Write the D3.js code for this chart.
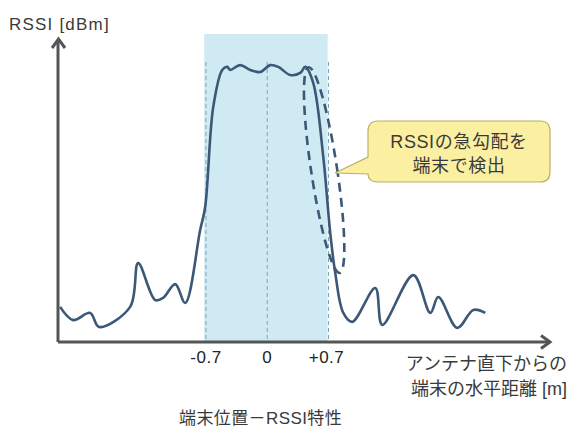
<!DOCTYPE html>
<html><head><meta charset="utf-8">
<script src="https://cdn.jsdelivr.net/npm/d3@7"></script>
<style>
html,body{margin:0;padding:0;background:#fff;}
text{font-family:"Liberation Sans","Noto Sans CJK JP",sans-serif;}
</style></head>
<body>
<svg id="chart" width="571" height="428"></svg>
<script>
// Data: horizontal distance [m] vs relative RSSI (arbitrary units)
const xPos = [-2.366,-2.217,-2.023,-1.92,-1.566,-1.474,-1.28,-1.189,-1.051,-0.937,-0.766,-0.709,-0.617,-0.514,-0.457,-0.423,-0.309,-0.194,-0.08,0.034,0.126,0.263,0.377,0.434,0.526,0.64,0.72,0.777,0.869,0.971,1.234,1.314,1.669,1.863,1.954,2.171,2.354,2.491];
const rssi = [11.7,7.3,9.7,5,11.7,26.3,14,14.7,19.3,13,37.3,45,78.3,90.7,91.7,90.7,92.3,90.7,90,92.3,91.7,89,89.7,91.7,86.3,61.7,36.3,23,9.7,6.7,18,5.7,22.3,9.7,15,4.7,10.7,9.7];
const tickValues = [-0.7, 0, 0.7];
const tickLabels = ["-0.7", "0", "+0.7"];
const zoneRange = [-0.72, 0.69];
const yLabel = "RSSI [dBm]";
const xLabelLines = ["アンテナ直下からの", "端末の水平距離 [m]"];
const title = "端末位置－RSSI特性";
const calloutLines = ["RSSIの急勾配を", "端末で検出"];

const svg = d3.select("#chart");
const x = d3.scaleLinear().domain([-2.39, 3.23]).range([58, 550]);
const y = d3.scaleLinear().domain([0, 100]).range([342, 42]);
const axisColor = "#555";
const lineColor = "#3b5877";
const textColor = "#3a3a3a";

// shaded zone
svg.append("rect")
  .attr("x", x(zoneRange[0])).attr("y", 34)
  .attr("width", x(zoneRange[1]) - x(zoneRange[0]))
  .attr("height", 342 - 34)
  .attr("fill", "#cfeaf3");

// dashed verticals at ticks
svg.selectAll("line.tick").data(tickValues).enter().append("line")
  .attr("x1", d => x(d)).attr("x2", d => x(d))
  .attr("y1", 62).attr("y2", 342)
  .attr("stroke", "#7fa5b5").attr("stroke-width", 1)
  .attr("stroke-dasharray", "4,3");

// curve
const data = xPos.map((v, i) => [v, rssi[i]]);
svg.append("path").datum(data)
  .attr("d", d3.line().x(d => x(d[0])).y(d => y(d[1])).curve(d3.curveCatmullRom.alpha(0.5)))
  .attr("fill", "none").attr("stroke", lineColor).attr("stroke-width", 2.6)
  .attr("stroke-linejoin", "round");

// dashed ellipse around steep edge
svg.append("ellipse")
  .attr("cx", 0).attr("cy", 0).attr("rx", 13).attr("ry", 104)
  .attr("transform", `translate(${x(0.65)},${y(57.3)}) rotate(-8.6)`)
  .attr("fill", "none").attr("stroke", lineColor).attr("stroke-width", 2.6)
  .attr("stroke-dasharray", "9,6");

// axes
svg.append("line").attr("x1", 58).attr("x2", 58).attr("y1", 342).attr("y2", 40)
  .attr("stroke", axisColor).attr("stroke-width", 3);
svg.append("line").attr("x1", 58).attr("x2", 549).attr("y1", 342).attr("y2", 342)
  .attr("stroke", axisColor).attr("stroke-width", 3);
svg.append("path").attr("d", "M52,48 L58.5,39 L65,48")
  .attr("fill", "none").attr("stroke", axisColor).attr("stroke-width", 3).attr("stroke-linejoin", "miter");
svg.append("path").attr("d", "M541,335.5 L550,342 L541,348.5")
  .attr("fill", "none").attr("stroke", axisColor).attr("stroke-width", 3);

// tick labels
svg.selectAll("text.tl").data(tickValues).enter().append("text")
  .attr("x", (d, i) => x(d) + (i === 2 ? -2 : 0)).attr("y", 363)
  .attr("text-anchor", "middle").attr("font-size", 17).attr("letter-spacing", 0.5).attr("fill", "#222")
  .text((d, i) => tickLabels[i]);

// y label
svg.append("text").attr("x", 9).attr("y", 30).attr("font-size", 17).attr("letter-spacing", 1.2)
  .attr("fill", textColor).text(yLabel);

// x label
svg.selectAll("text.xl").data(xLabelLines).enter().append("text")
  .attr("x", 567).attr("y", (d, i) => 370 + i * 25)
  .attr("text-anchor", "end").attr("font-size", 18).attr("fill", textColor).text(d => d);

// title
svg.append("text").attr("x", 179).attr("y", 424).attr("font-size", 17).attr("letter-spacing", 0.4)
  .attr("fill", textColor).text(title);

// callout
svg.append("path")
  .attr("d", "M378,121 H540 Q550,121 550,131 V172 Q550,182 540,182 H378 Q368,182 368,174 L335,173 L368,157 V131 Q368,121 378,121 Z")
  .attr("fill", "#fbf0a2").attr("stroke", "#bcae6a").attr("stroke-width", 1.2);
svg.selectAll("text.co").data(calloutLines).enter().append("text")
  .attr("x", 459).attr("y", (d, i) => 148 + i * 24)
  .attr("text-anchor", "middle").attr("font-size", 18).attr("letter-spacing", 0.6)
  .attr("fill", textColor).text(d => d);
</script>
</body></html>
